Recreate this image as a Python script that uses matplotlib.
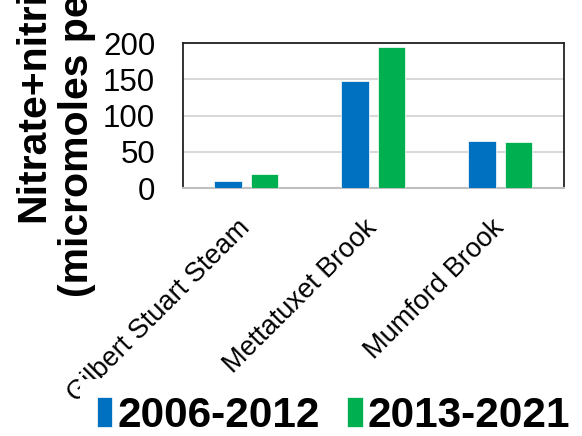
import numpy as np
import matplotlib
matplotlib.use("Agg")
import matplotlib.pyplot as plt

plt.rcParams['font.family'] = ['Liberation Sans', 'DejaVu Sans']

sites = ['Gilbert Stuart Steam', 'Mettatuxet Brook', 'Mumford Brook']
period_1 = [10, 148, 65]   # 2006-2012
period_2 = [20, 195, 64]   # 2013-2021
series_labels = ['2006-2012', '2013-2021']
colors = ['#0070C0', '#00B050']
yticks = [0, 50, 100, 150, 200]

fig = plt.figure(figsize=(5.82, 4.36), dpi=100)
ax = fig.add_axes([0.3144, 0.5688, 0.6546, 0.3322])

x = np.arange(len(sites))
width = 0.22
offset = 0.142
ax.bar(x - offset, period_1, width, color=colors[0], label=series_labels[0],
       edgecolor='white', linewidth=0.5, zorder=3)
ax.bar(x + offset, period_2, width, color=colors[1], label=series_labels[1],
       edgecolor='white', linewidth=0.5, zorder=3)

ax.set_xlim(-0.5, len(sites) - 0.5)
ax.set_ylim(0, 200)
ax.set_yticks(yticks)
ax.set_yticklabels([str(v) for v in yticks], fontsize=22.5)
ax.tick_params(axis='y', length=0, pad=20)
ax.yaxis.grid(True, color='#d9d9d9', linewidth=1.5, zorder=0)
ax.set_axisbelow(True)

ax.set_xticks(x)
ax.set_xticklabels(sites, fontsize=19.5, rotation=45, ha='right',
                   va='center', rotation_mode='anchor')
ax.tick_params(axis='x', length=0, pad=26)

for side in ['top', 'left', 'right']:
    ax.spines[side].set_color('#222222')
    ax.spines[side].set_linewidth(1.3)
ax.spines['bottom'].set_color('#bfbfbf')
ax.spines['bottom'].set_linewidth(1.5)

fig.text(55 / 582, 1 - 88 / 436, 'Nitrate+nitrite\n(micromoles per liter)',
         rotation=90, ha='center', va='center', multialignment='center',
         fontsize=29.5, fontweight='bold')

# legend sits over the first tick label like in the original
leg = fig.legend(loc='center', bbox_to_anchor=(0.573, 0.047), ncol=2,
                 prop={'weight': 'bold', 'size': 30.5},
                 handlelength=0.36, handleheight=0.72, handletextpad=0.12,
                 columnspacing=0.65, frameon=True, framealpha=1,
                 facecolor='white', edgecolor='none', borderpad=0.4)

fig.savefig('out.png', dpi=100)
